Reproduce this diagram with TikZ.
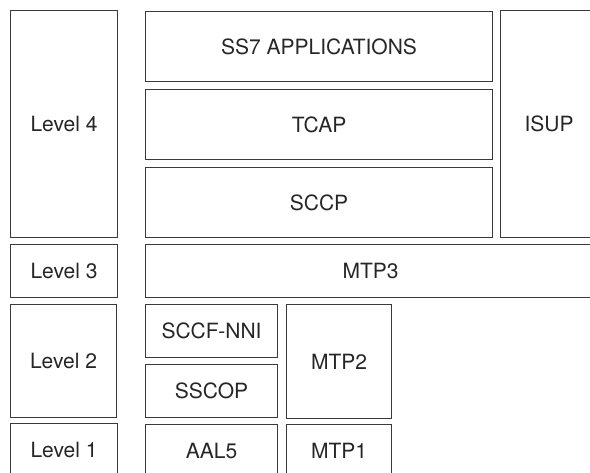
\documentclass[tikz,border=0pt]{standalone}
\usepackage{fontspec}
\setmainfont{TeX Gyre Heros}
\usetikzlibrary{positioning}
\definecolor{lineGray}{HTML}{3A3A3A}
\tikzset{
  box/.style={draw=lineGray,line width=1.1pt,inner sep=0pt,anchor=north west,
    font=\fontsize{21}{25}\selectfont,text=black!85},
}

\begin{document}
\begin{tikzpicture}[x=1pt,y=-1pt]
\useasboundingbox (0,0) rectangle (590,473);
\clip (0,0) rectangle (590,473);
% level column
\node[box,minimum width=107,minimum height=227] (lv4) at (10,10) {Level 4};
\node[box,minimum width=107,minimum height=53] (lv3) at (10,244) {Level 3};
\node[box,minimum width=106,minimum height=113] (lv2) at (10,304) {Level 2};
\node[box,minimum width=107,minimum height=53] (lv1) at (10,423) {Level 1};
% protocol stack
\node[box,minimum width=347,minimum height=70] (apps) at (145,11) {SS7 APPLICATIONS};
\node[box,minimum width=347,minimum height=70] (tcap) at (145,89) {TCAP};
\node[box,minimum width=347,minimum height=70] (sccp) at (145,167) {SCCP};
\node[box,minimum width=97,minimum height=227] (isup) at (500,10) {ISUP};
\node[box,minimum width=450,minimum height=53] (mtp3) at (145,244) {MTP3};
\node[box,minimum width=132,minimum height=53] (sccf) at (145,304) {SCCF-NNI};
\node[box,minimum width=132,minimum height=53] (sscop) at (145,364) {SSCOP};
\node[box,minimum width=105,minimum height=114] (mtp2) at (286,304) {MTP2};
\node[box,minimum width=132,minimum height=53] (aal5) at (145,424) {AAL5};
\node[box,minimum width=105,minimum height=53] (mtp1) at (286,424) {MTP1};
\end{tikzpicture}
\end{document}
